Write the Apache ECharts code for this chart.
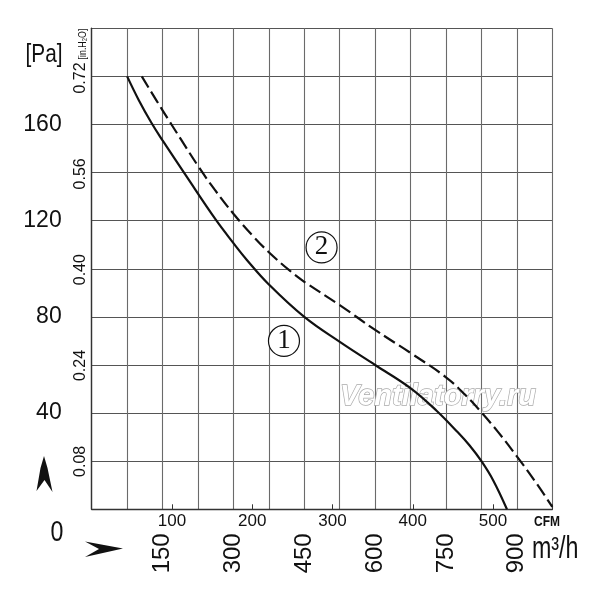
<!DOCTYPE html>
<html>
<head>
    <meta charset="utf-8">
    <style>
        html, body { margin: 0; padding: 0; background: #fff; }
        #container { width: 600px; height: 598px; }
    </style>
</head>
<body>
    <div id="container"></div>
    <script src="https://cdn.jsdelivr.net/npm/echarts@6/dist/echarts.min.js"></script>
    <script type="text/javascript">

        // curve 1 (solid) and curve 2 (dashed), airflow in m3/h, pressure in Pa
        var flow1 = [75, 100, 127, 150, 200, 263, 300, 328, 375, 450, 526, 600, 674, 730, 775, 800, 825, 850, 879];
        var press1 = [180, 170, 160.5, 153.4, 138.6, 120.3, 110.7, 103.8, 93.5, 80, 69.5, 60, 50.5, 41, 32, 26.5, 20, 12, 0];
        var flow2 = [106, 150, 190, 225, 260, 300, 340, 375, 420, 450, 525, 600, 675, 750, 790, 825, 860, 900, 940, 975];
        var press2 = [180, 165.9, 153.5, 142.8, 133, 122.9, 113.9, 106.9, 99.1, 94.6, 84.9, 74.6, 65, 54.9, 47.7, 40.3, 32.2, 22, 11.2, 1];

        // tick labels
        var paLabels = [40, 80, 120, 160];
        var inh2oLabels = ['0.08', '0.24', '0.40', '0.56', '0.72'];
        var m3hLabels = [150, 300, 450, 600, 750, 900];
        var cfmLabels = [100, 200, 300, 400, 500];

        var PA_PER_INH2O = 249.0889;
        var M3H_PER_CFM = 1.699;
        var font = '"Liberation Sans", Arial, sans-serif';

        function pairs(xs, ys) {
            var out = [];
            for (var i = 0; i < xs.length; i++) {
                out.push([xs[i], ys[i]]);
            }
            return out;
        }

        var dom = document.getElementById('container');
        var myChart = echarts.init(dom, null, { renderer: 'canvas' });

        var circleMark = function (label, x, y) {
            return {
                silent: true,
                symbol: 'circle',
                symbolSize: 31,
                itemStyle: { color: '#fff', borderColor: '#111', borderWidth: 1.2 },
                label: {
                    show: true,
                    position: 'inside',
                    formatter: label,
                    color: '#111',
                    fontSize: 27,
                    fontFamily: '"Liberation Serif", serif'
                },
                data: [{ coord: [x, y] }]
            };
        };

        var option = {
            animation: false,
            backgroundColor: '#fff',
            grid: { left: 91.7, top: 28.3, right: 47.7, bottom: 88.7 },
            xAxis: [
                {
                    type: 'value',
                    min: 0,
                    max: 975,
                    interval: 75,
                    position: 'bottom',
                    axisLine: { show: true, lineStyle: { color: '#333', width: 1.4 } },
                    axisTick: { show: false },
                    splitLine: { show: true, lineStyle: { color: '#6a6a6a', width: 1.1 } },
                    axisLabel: {
                        rotate: 90,
                        margin: 24,
                        color: '#111',
                        fontSize: 24,
                        fontFamily: font,
                        formatter: function (v) {
                            return m3hLabels.indexOf(Math.round(v)) >= 0 ? String(Math.round(v)) : '';
                        }
                    }
                },
                {
                    type: 'value',
                    min: 0,
                    max: 975 / M3H_PER_CFM,
                    interval: 100,
                    position: 'bottom',
                    axisLine: { show: false },
                    axisTick: { show: true, inside: true, length: 5, lineStyle: { color: '#333' } },
                    splitLine: { show: false },
                    axisLabel: {
                        margin: 4,
                        color: '#111',
                        fontSize: 17,
                        fontFamily: font,
                        formatter: function (v) {
                            return cfmLabels.indexOf(Math.round(v)) >= 0 && Math.abs(v - Math.round(v)) < 1e-6 ? String(Math.round(v)) : '';
                        }
                    }
                }
            ],
            yAxis: [
                {
                    type: 'value',
                    min: 0,
                    max: 200,
                    interval: 20,
                    position: 'left',
                    axisLine: { show: true, lineStyle: { color: '#333', width: 1.4 } },
                    axisTick: { show: false },
                    splitLine: { show: true, lineStyle: { color: '#555', width: 1.1 } },
                    axisLabel: {
                        margin: 30,
                        color: '#111',
                        fontSize: 23,
                        fontFamily: font,
                        formatter: function (v) {
                            return paLabels.indexOf(v) >= 0 ? String(v) : '';
                        }
                    }
                },
                {
                    type: 'value',
                    min: 0,
                    max: 200 / PA_PER_INH2O,
                    interval: 0.08,
                    position: 'left',
                    axisLine: { show: false },
                    axisTick: { show: false },
                    splitLine: { show: false },
                    axisLabel: {
                        rotate: 90,
                        margin: 3,
                        color: '#111',
                        fontSize: 16,
                        fontFamily: font,
                        formatter: function (v) {
                            for (var i = 0; i < inh2oLabels.length; i++) {
                                if (Math.abs(parseFloat(inh2oLabels[i]) - v) < 1e-6) return inh2oLabels[i];
                            }
                            return '';
                        }
                    }
                }
            ],
            graphic: [
                {
                    type: 'text', x: 44, y: 55, scaleX: 0.8, z: 5,
                    style: { text: '[Pa]', fill: '#111', font: '26px ' + font, align: 'center', verticalAlign: 'middle' }
                },
                {
                    type: 'text', x: 83, y: 44, rotation: Math.PI / 2, scaleX: 0.8, z: 5,
                    style: { text: '[in.H\u2082O]', fill: '#111', font: '11px ' + font, align: 'center', verticalAlign: 'middle' }
                },
                {
                    type: 'text', x: 57, y: 533, scaleX: 0.8, z: 5,
                    style: { text: '0', fill: '#111', font: '29px ' + font, align: 'center', verticalAlign: 'middle' }
                },
                {
                    type: 'text', x: 547, y: 522, scaleX: 0.8, z: 5,
                    style: { text: 'CFM', fill: '#111', font: 'bold 15px ' + font, align: 'center', verticalAlign: 'middle' }
                },
                {
                    type: 'text', x: 532, y: 549, scaleX: 0.75, z: 5,
                    style: { text: 'm\u00b3/h', fill: '#111', font: '31px ' + font, align: 'left', verticalAlign: 'middle' }
                },
                {
                    type: 'polygon', z: 5,
                    shape: { points: [[44, 456], [47.5, 468], [52.5, 492], [44.5, 480], [36.5, 491], [40.5, 468]] },
                    style: { fill: '#111' }
                },
                {
                    type: 'polygon', z: 5,
                    shape: { points: [[123, 548.5], [85, 541.5], [99, 549], [85, 557]] },
                    style: { fill: '#111' }
                },
                {
                    type: 'text', x: 438, y: 397, z: 1,
                    style: {
                        text: 'Ventilatorry.ru',
                        fill: '#fff',
                        stroke: '#ababab',
                        lineWidth: 1.4,
                        font: 'italic bold 29px "Liberation Sans", sans-serif',
                        align: 'center',
                        verticalAlign: 'middle'
                    }
                }
            ],
            series: [
                {
                    name: '1',
                    type: 'line',
                    xAxisIndex: 0,
                    yAxisIndex: 0,
                    z: 3,
                    smooth: 0.4,
                    showSymbol: false,
                    lineStyle: { color: '#111', width: 2.2 },
                    data: pairs(flow1, press1),
                    markPoint: circleMark('1', 407, 70)
                },
                {
                    name: '2',
                    type: 'line',
                    xAxisIndex: 0,
                    yAxisIndex: 0,
                    z: 3,
                    smooth: 0.4,
                    showSymbol: false,
                    lineStyle: { color: '#111', width: 2.2, type: [13, 5] },
                    data: pairs(flow2, press2),
                    markPoint: circleMark('2', 486.6, 108.9)
                }
            ]
        };

        myChart.setOption(option);
        window.addEventListener('resize', myChart.resize);
    </script>
</body>
</html>
